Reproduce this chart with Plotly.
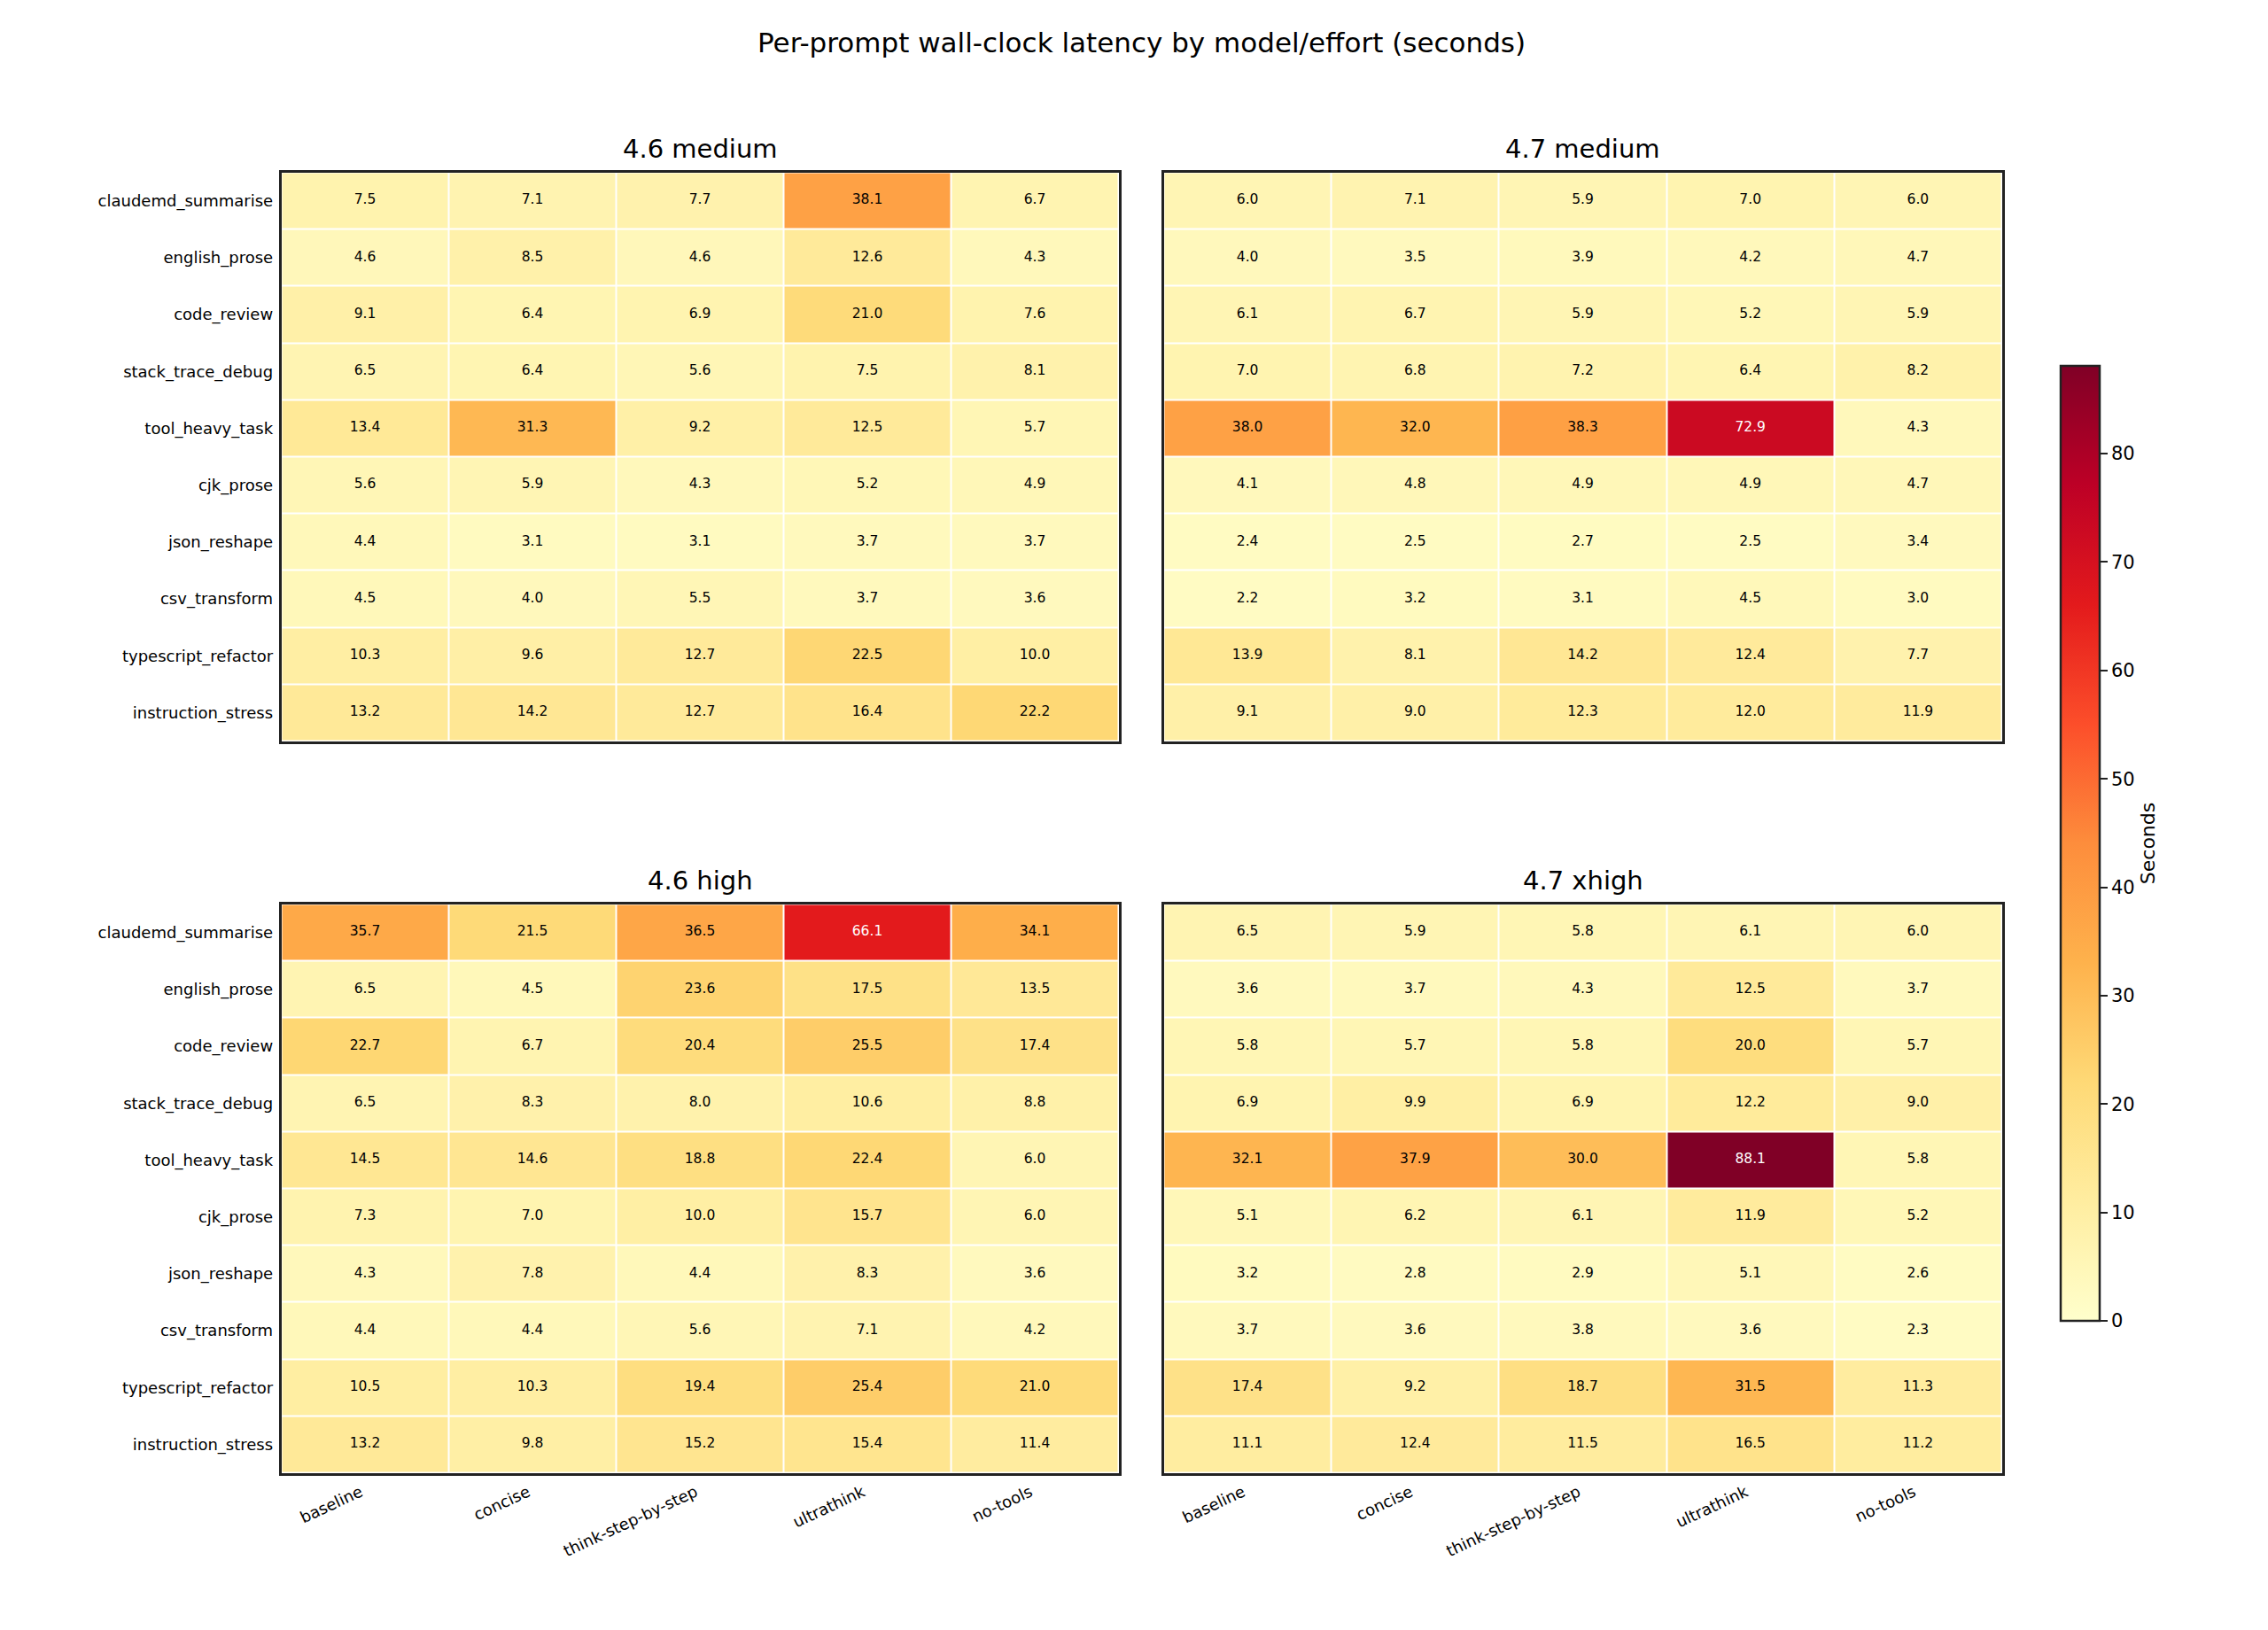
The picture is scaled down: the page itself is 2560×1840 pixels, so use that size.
import plotly.graph_objects as go

prompts = ["claudemd_summarise", "english_prose", "code_review", "stack_trace_debug",
           "tool_heavy_task", "cjk_prose", "json_reshape", "csv_transform",
           "typescript_refactor", "instruction_stress"]
variants = ["baseline", "concise", "think-step-by-step", "ultrathink", "no-tools"]

lat_46_medium = [
    [7.5, 7.1, 7.7, 38.1, 6.7],
    [4.6, 8.5, 4.6, 12.6, 4.3],
    [9.1, 6.4, 6.9, 21.0, 7.6],
    [6.5, 6.4, 5.6, 7.5, 8.1],
    [13.4, 31.3, 9.2, 12.5, 5.7],
    [5.6, 5.9, 4.3, 5.2, 4.9],
    [4.4, 3.1, 3.1, 3.7, 3.7],
    [4.5, 4.0, 5.5, 3.7, 3.6],
    [10.3, 9.6, 12.7, 22.5, 10.0],
    [13.2, 14.2, 12.7, 16.4, 22.2],
]
lat_47_medium = [
    [6.0, 7.1, 5.9, 7.0, 6.0],
    [4.0, 3.5, 3.9, 4.2, 4.7],
    [6.1, 6.7, 5.9, 5.2, 5.9],
    [7.0, 6.8, 7.2, 6.4, 8.2],
    [38.0, 32.0, 38.3, 72.9, 4.3],
    [4.1, 4.8, 4.9, 4.9, 4.7],
    [2.4, 2.5, 2.7, 2.5, 3.4],
    [2.2, 3.2, 3.1, 4.5, 3.0],
    [13.9, 8.1, 14.2, 12.4, 7.7],
    [9.1, 9.0, 12.3, 12.0, 11.9],
]
lat_46_high = [
    [35.7, 21.5, 36.5, 66.1, 34.1],
    [6.5, 4.5, 23.6, 17.5, 13.5],
    [22.7, 6.7, 20.4, 25.5, 17.4],
    [6.5, 8.3, 8.0, 10.6, 8.8],
    [14.5, 14.6, 18.8, 22.4, 6.0],
    [7.3, 7.0, 10.0, 15.7, 6.0],
    [4.3, 7.8, 4.4, 8.3, 3.6],
    [4.4, 4.4, 5.6, 7.1, 4.2],
    [10.5, 10.3, 19.4, 25.4, 21.0],
    [13.2, 9.8, 15.2, 15.4, 11.4],
]
lat_47_xhigh = [
    [6.5, 5.9, 5.8, 6.1, 6.0],
    [3.6, 3.7, 4.3, 12.5, 3.7],
    [5.8, 5.7, 5.8, 20.0, 5.7],
    [6.9, 9.9, 6.9, 12.2, 9.0],
    [32.1, 37.9, 30.0, 88.1, 5.8],
    [5.1, 6.2, 6.1, 11.9, 5.2],
    [3.2, 2.8, 2.9, 5.1, 2.6],
    [3.7, 3.6, 3.8, 3.6, 2.3],
    [17.4, 9.2, 18.7, 31.5, 11.3],
    [11.1, 12.4, 11.5, 16.5, 11.2],
]

panel_titles = ["4.6 medium", "4.7 medium", "4.6 high", "4.7 xhigh"]
panel_data = [lat_46_medium, lat_47_medium, lat_46_high, lat_47_xhigh]
colorbar_ticks = [0, 10, 20, 30, 40, 50, 60, 70, 80]

W, H = 2560, 1840
FONT = "DejaVu Sans"
LW = 2.5

ylorrd = ["#ffffcc", "#ffeda0", "#fed976", "#feb24c", "#fd8d3c",
          "#fc4e2a", "#e31a1c", "#bd0026", "#800026"]
cscale = [[i / (len(ylorrd) - 1), c] for i, c in enumerate(ylorrd)]

zmax = max(max(max(r) for r in d) for d in panel_data)

# outer panel box edges in pixels (left, right) and (top, bottom)
x_doms = [(307, 1257), (1303, 2254)]
y_doms = [(184, 831), (1010, 1657)]

fig = go.Figure()
layout = dict(
    width=W, height=H,
    margin=dict(l=0, r=0, t=0, b=0),
    paper_bgcolor="white", plot_bgcolor="white",
    font=dict(family=FONT, color="black"),
    showlegend=False,
    annotations=[],
)

for k, (title, data) in enumerate(zip(panel_titles, panel_data)):
    row, col = divmod(k, 2)
    n = k + 1
    xa = "x" if n == 1 else f"x{n}"
    ya = "y" if n == 1 else f"y{n}"
    fig.add_trace(go.Heatmap(
        z=data, x=variants, y=prompts,
        colorscale=cscale, zmin=0, zmax=zmax,
        xgap=2, ygap=2,
        showscale=(k == 0),
        colorbar=dict(
            x=2318 / W, xanchor="left", xpad=0, ypad=0,
            y=1 - 944 / H, yanchor="middle",
            len=1078 / H, lenmode="fraction",
            thickness=44, outlinewidth=2.5, outlinecolor="#222",
            ticks="outside", ticklen=8, tickwidth=2, tickcolor="#222",
            tickvals=colorbar_ticks,
            tickfont=dict(size=21, family=FONT),
            title=dict(text="Seconds", side="right", font=dict(size=22, family=FONT)),
        ),
        xaxis=xa, yaxis=ya, hoverinfo="skip",
    ))
    xs, ys, ts, cs = [], [], [], []
    for i, p in enumerate(prompts):
        for j, v in enumerate(variants):
            val = data[i][j]
            xs.append(v); ys.append(p); ts.append(f"{val:.1f}")
            cs.append("white" if val > 0.6 * zmax else "black")
    fig.add_trace(go.Scatter(
        x=xs, y=ys, text=ts, mode="text",
        textfont=dict(size=15.5, color=cs, family=FONT),
        xaxis=xa, yaxis=ya, hoverinfo="skip",
    ))
    xl, xr = x_doms[col]
    yt, yb = y_doms[row]
    axname_x = "xaxis" if n == 1 else f"xaxis{n}"
    axname_y = "yaxis" if n == 1 else f"yaxis{n}"
    layout[axname_x] = dict(
        domain=[(xl + LW) / W, (xr - LW) / W], anchor=ya,
        showgrid=False, zeroline=False,
        showline=True, mirror=True, linecolor="#222", linewidth=LW,
        ticks="", showticklabels=(row == 1), ticklabelstandoff=2,
        ticklabelshift=-5,
        tickangle=-25, tickfont=dict(size=18, family=FONT),
        categoryorder="array", categoryarray=variants,
        range=[-0.5, 4.5],
    )
    layout[axname_y] = dict(
        domain=[1 - (yb - LW) / H, 1 - (yt + LW) / H], anchor=xa,
        showgrid=False, zeroline=False,
        showline=True, mirror=True, linecolor="#222", linewidth=LW,
        ticks="", showticklabels=(col == 0), ticklabelstandoff=3,
        tickfont=dict(size=18, family=FONT),
        categoryorder="array", categoryarray=prompts,
        range=[9.5, -0.5],
    )
    layout["annotations"].append(dict(
        text=title, xref="paper", yref="paper",
        x=(xl + xr) / 2 / W, y=1 - (yt - 13 + 8) / H,
        xanchor="center", yanchor="bottom", showarrow=False,
        font=dict(size=29, family=FONT, color="black"),
    ))

layout["annotations"].append(dict(
    text="Per-prompt wall-clock latency by model/effort (seconds)",
    xref="paper", yref="paper", x=0.5, y=1 - 60 / H,
    xanchor="center", yanchor="bottom", showarrow=False,
    font=dict(size=31, family=FONT, color="black"),
))

fig.update_layout(**layout)
fig.write_html("out.html")
